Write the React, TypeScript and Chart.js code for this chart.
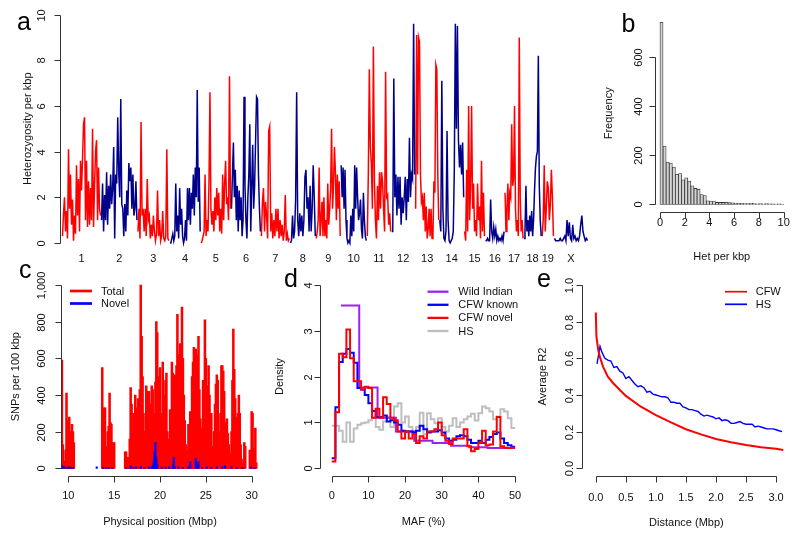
import React, { useEffect, useRef } from 'react';
import { Chart, registerables } from 'chart.js';
Chart.register(...registerables);

const FONT = "'Liberation Sans', Arial, Helvetica, sans-serif";
Chart.defaults.font.family = FONT;
const PAGE_W = 800;
const PAGE_H = 537;
const RED = '#FF0000';
const NAVY = '#00008B';
const BLUE = '#0000FF';
const PURPLE = '#A020F0';
const GREY = '#BEBEBE';
const AXIS = '#333333';
const TEXT = '#111111';
const FS = 11;

// ---------- Panel a: heterozygosity per kbp along the genome ----------
const chromNames = ['1','2','3','4','5','6','7','8','9','10','11','12','13','14','15','16','17','18','19','X'];
const chromLengthsMb = [195.5,182.1,160.0,156.5,151.8,149.7,145.4,129.4,124.6,130.7,122.1,120.1,120.4,124.9,104.0,98.2,95.0,90.7,61.4,171.0];
const hetChr1 = [0.3,1.3,2.0,0.5,1.4,0.2,4.1,1.5,3.0,0.8,1.9,0.1,1.2,0.4,3.4,1.2,2.8,0.5,3.6,2.3,3.7,5.2,5.5,1.0,3.6,0.7,2.7,0.8,2.4,1.0,5.0,0.7,2.5,4.0,4.5,1.0,3.3,1.5,1.2];
const hetChr2 = [1.0,2.6,0.5,2.1,1.0,3.1,0.8,2.5,1.5,3.0,1.7,2.4,4.2,0.2,3.0,2.6,5.5,3.1,2.0,6.3,1.7,1.5,0.3,1.7,0.5,2.3,1.2,3.5,2.7,3.3,1.5,3.0,1.2,1.5,2.7,1.0];
const hetChr3 = [0.5,1.5,0.2,5.3,1.2,1.5,0.5,1.5,0.3,2.8,1.0,1.2,0.2,0.8,0.3,1.2,0.5,0.1,0.4,2.3,0.3,1.0,0.1,0.3,1.4,0.2,0.1,0.3,4.1,0.2,0.1];
const hetChr4 = [0.0,0.0,0.2,0.4,0.1,0.3,2.6,0.5,1.2,0.2,2.4,0.8,1.5,0.3,0.0,0.2,1.0,0.1,2.4,1.0,2.4,0.8,2.2,1.5,3.0,1.2,3.3,2.0,6.7,1.8,3.3,0.5];
const hetChr5 = [0.0,0.1,0.3,0.5,3.0,0.3,1.0,0.5,2.6,6.6,1.5,0.8,1.4,0.5,2.0,1.0,2.4,1.2,2.2,0.5,1.5,0.4,3.0,1.0,2.6,3.6,1.7,2.0,1.0,7.3,1.5];
const hetChr6 = [1.5,3.0,4.4,2.0,3.2,1.0,2.5,0.5,2.3,1.0,2.0,0.3,1.0,6.4,2.5,1.0,0.2,2.0,3.0,5.2,0.5,2.5,4.3,1.5,2.5,4.5,6.4,6.3,3.0,1.5,0.5];
const hetChr7 = [0.3,1.8,2.4,0.5,1.8,1.2,0.2,4.9,5.1,0.5,1.3,0.2,1.0,0.3,1.5,0.5,1.5,0.2,1.0,0.3,0.8,0.1,0.5,2.1,0.1,0.4,0.1,0.2];
const hetChr8 = [0.0,0.1,1.2,0.2,0.5,1.9,6.6,1.0,0.3,1.3,0.5,1.2,0.3,1.0,2.9,3.2,1.5,2.0,0.5,2.5,0.5,1.5,3.4,2.0,0.3];
const hetChr9 = [0.2,0.5,1.0,3.3,0.3,1.0,1.8,0.3,2.0,0.3,1.0,0.2,2.6,0.8,1.5,2.4,5.0,1.5,2.5,4.2,3.1,1.0,3.0,1.5,2.7,0.3];
const hetChr10 = [3.4,2.0,3.3,1.5,3.2,1.0,0.2,0.0,0.1,0.0,1.2,0.3,1.5,0.5,3.4,1.5,3.3,2.0,1.0,1.3,1.9,0.6,0.2,2.2,1.0,0.3,0.1];
const hetChr11 = [0.3,3.0,7.6,4.2,3.5,1.5,8.6,2.7,1.0,0.2,2.5,1.0,3.1,1.5,3.1,2.7,1.5,0.5,7.5,2.0,2.1,0.8,1.3,0.5];
const hetChr12 = [0.5,0.5,7.2,2.0,3.0,1.2,2.9,1.5,2.9,0.8,2.0,1.3,2.0,2.9,1.0,2.8,1.8,4.6,2.0,3.0,2.8,9.6,3.0];
const hetChr13 = [1.5,9.1,3.0,9.0,8.8,3.0,1.8,2.0,1.0,2.2,0.5,1.6,0.2,0.6,1.5,0.3,1.5,0.2,0.4,2.7,2.2,7.8,7.6,3.0,1.0];
const hetChr14 = [1.0,0.5,7.1,1.5,0.2,0.1,0.5,4.9,1.0,0.1,0.0,0.1,0.2,0.5,3.2,9.6,5.0,9.5,4.5,3.3,4.3,3.0,4.4,2.0];
const hetChr15 = [0.5,0.1,3.2,0.5,6.0,1.0,2.5,6.0,1.5,2.6,0.5,1.0,0.3,2.6,1.0,1.6,0.2,3.6,0.5,2.2,0.3];
const hetChr16 = [0.1,0.1,0.2,0.1,0.1,1.9,0.5,0.2,0.7,0.3,0.6,0.1,0.3,0.1,0.2,0.1,0.3,0.1,0.5];
const hetChr17 = [2.2,0.5,1.5,2.6,1.0,2.2,2.0,5.2,2.5,2.8,6.0,1.5,0.5,1.0,0.3,9.0,2.0,0.5,1.0,0.2];
const hetChr18 = [0.2,0.5,2.5,0.5,1.0,0.3,1.2,0.5,1.4,0.3,1.0,2.3,3.3,3.8,4.0,8.2,2.5,1.0,0.3];
const hetChr19 = [0.3,1.0,3.4,0.5,1.5,2.7,2.4,1.0,1.7,3.2,2.0,0.3];
const hetChrX = [0.2,0.1,0.1,0.1,0.1,0.2,0.1,0.1,0.2,0.3,0.1,1.0,0.3,0.9,0.2,0.1,0.8,0.2,0.3,0.1,0.2,0.1,0.3,0.8,1.2,0.5,0.3,0.1,0.2,0.1];
const hetByChrom = [hetChr1,hetChr2,hetChr3,hetChr4,hetChr5,hetChr6,hetChr7,hetChr8,hetChr9,hetChr10,hetChr11,hetChr12,hetChr13,hetChr14,hetChr15,hetChr16,hetChr17,hetChr18,hetChr19,hetChrX];
const aYTicks = [0, 2, 4, 6, 8, 10];
const aYLabels = ['0', '2', '4', '6', '8', '10'];

// ---------- Panel b: histogram of het per kbp ----------
const histBinStart = 0;
const histBinWidth = 0.25;
const histCounts = [740,237,172,168,152,122,125,100,108,95,76,65,62,40,36,15,14,12,8,8,8,9,7,6,5,4,4,3,3,4,3,2,3,2,3,2,2,1,2,1];
const bXTicks = [0, 2, 4, 6, 8, 10];
const bXLabels = ['0', '2', '4', '6', '8', '10'];
const bYTicks = [0, 200, 400, 600];
const bYLabels = ['0', '200', '400', '600'];

// ---------- Panel c: SNPs per 100 kbp ----------
const snpBinMb = 0.1;
const totalSeg1Start = 9.3;
const totalSeg1 = [590,130,20,40,100,410,110,260,280,160,200,240,200,140];
const totalSeg2Start = 13.7;
const totalSeg2 = [550,300,330,330,110,120,200,230,410,250,240,110,140,140];
const totalSeg3Start = 16.2;
const totalSeg3 = [90,90,60,60,20,160,440,350,200,300,130,400,260,330,380,250,430,1000,720,500,
  300,150,200,450,260,420,420,200,350,450,430,200,300,470,800,740,500,350,550,300,
  230,580,400,200,480,520,200,100,160,320,300,580,520,470,510,500,560,840,500,620,
  680,460,880,600,400,260,130,100,70,240,150,310,200,500,580,660,600,650,620,560,
  720,430,270,140,220,480,420,810,600,450,300,560,400,250,300,120,80,200,350,460,
  510,480,200,100,300,560,560,530,420,250,240,270,190,130,60,80,200,480,760,540,
  380,280,150,300,400,300,130,50,10,30,140,120];
const totalSeg4Start = 29.8;
const totalSeg4 = [100,100,310,300,110,100,220,30];
const novelPos = [9.3,9.4,9.6,9.9,10.1,10.3,10.5,13.1,13.8,14.1,14.4,14.8,16.3,16.8,17.1,17.4,17.9,18.3,18.8,19.1,19.2,19.3,19.4,19.5,19.6,19.7,20.2,20.6,21.0,21.4,21.5,21.6,22.0,22.5,23.1,23.3,23.9,24.0,24.2,24.6,25.1,25.6,26.2,26.8,27.1,27.8,28.4,29.0,29.9,30.3];
const novelVal = [15,10,8,6,8,6,5,8,6,5,6,5,6,15,6,8,10,6,8,10,12,40,90,140,60,20,8,6,10,15,60,10,8,6,8,35,55,20,35,6,8,6,8,10,15,8,6,5,8,6];
const cXTicks = [10, 15, 20, 25, 30];
const cXLabels = ['10', '15', '20', '25', '30'];
const cYTicks = [0, 200, 400, 600, 800, 1000];
const cYLabels = ['0', '200', '400', '600', '800', '1,000'];

// ---------- Panel d: MAF densities ----------
const wildMaf = [2.5,7.5,12.5,17.5,22.5,27.5,32.5,37.5,42.5,47.5,50];
const wildDensity = [3.55,1.76,1.1,0.8,0.6,0.55,0.49,0.46,0.44,0.44,0.44];
const mafBinStart = 0;
const mafBinWidth = 1;
const cfwKnownDensity = [0.22,1.33,2.32,2.5,2.6,2.52,2.3,1.75,1.72,1.6,1.42,1.25,1.12,1.12,1.15,1.02,1.05,1.0,0.95,0.82,0.8,0.8,0.78,0.82,0.93,0.85,0.78,0.8,0.8,0.83,0.78,0.65,0.6,0.62,0.7,0.72,0.7,0.62,0.55,0.55,0.6,0.55,0.62,0.68,0.75,0.78,0.65,0.55,0.5,0.47];
const cfwNovelDensity = [0.15,1.22,2.5,2.42,3.03,2.4,1.9,1.9,1.72,1.78,1.75,1.1,1.3,1.1,1.55,1.4,1.1,1.05,0.8,0.65,0.8,0.65,0.75,0.55,0.7,0.65,0.8,0.8,0.85,1.0,0.72,0.6,0.53,0.65,0.65,0.65,0.85,0.48,0.37,0.42,0.55,0.82,0.5,0.52,0.8,1.12,0.48,0.45,0.44,0.45];
const hsDensity = [0.93,0.93,0.82,0.58,1.0,0.58,0.87,0.95,0.98,1.0,1.05,1.1,0.9,0.84,1.02,1.13,0.9,1.35,1.42,1.0,1.13,0.9,0.79,0.9,1.21,0.74,1.2,1.07,0.98,1.09,0.9,0.8,0.93,1.09,0.9,1.0,1.07,1.13,1.19,1.04,1.2,1.35,1.31,1.24,1.07,1.13,1.29,1.24,1.09,0.88];
const dXTicks = [0, 10, 20, 30, 40, 50];
const dXLabels = ['0', '10', '20', '30', '40', '50'];
const dYTicks = [0, 1, 2, 3, 4];
const dYLabels = ['0', '1', '2', '3', '4'];

// ---------- Panel e: LD decay ----------
const cfwDist = [0,0.01,0.04,0.07,0.12,0.2,0.29,0.4,0.5,0.75,1.0,1.25,1.5,1.75,2.0,2.25,2.5,2.75,3.0,3.12];
const cfwR2 = [0.85,0.72,0.645,0.605,0.555,0.5,0.464,0.427,0.395,0.336,0.29,0.25,0.213,0.185,0.16,0.142,0.127,0.115,0.107,0.1];
const hsDist = [0.02,0.07,0.1,0.15,0.2,0.25,0.3,0.35,0.4,0.45,0.5,0.55,0.6,0.65,0.7,0.75,0.8,0.85,0.9,0.95,1.0,1.05,1.1,1.15,1.2,1.25,1.3,1.35,1.4,1.45,1.5,1.55,1.6,1.65,1.7,1.75,1.8,1.85,1.9,1.95,2.0,2.05,2.1,2.15,2.2,2.25,2.3,2.35,2.4,2.45,2.5,2.55,2.6,2.65,2.7,2.75,2.8,2.85,2.9,2.95,3.0,3.05,3.1];
const hsR2 = [0.57,0.665,0.635,0.6,0.59,0.585,0.55,0.555,0.53,0.52,0.49,0.5,0.48,0.46,0.445,0.45,0.44,0.415,0.42,0.405,0.4,0.395,0.39,0.39,0.385,0.36,0.36,0.355,0.355,0.335,0.33,0.32,0.32,0.315,0.31,0.295,0.285,0.29,0.285,0.28,0.27,0.275,0.26,0.265,0.26,0.245,0.245,0.25,0.255,0.245,0.24,0.24,0.24,0.225,0.23,0.225,0.22,0.215,0.215,0.215,0.21,0.205,0.2];
const eXTicks = [0, 0.5, 1, 1.5, 2, 2.5, 3];
const eXLabels = ['0.0', '0.5', '1.0', '1.5', '2.0', '2.5', '3.0'];
const eYTicks = [0, 0.2, 0.4, 0.6, 0.8, 1.0];
const eYLabels = ['0.0', '0.2', '0.4', '0.6', '0.8', '1.0'];

// ---------- helpers ----------
type Box = { left: number; top: number; right: number; bottom: number };
type Spec = {
  box: Box; x: [number, number]; y: [number, number];
  xTicks: number[]; xLabels: string[]; xLabelCenter: number;
  xTitle?: string; xTitleCenter?: number;
  yTicks: number[]; yLabels: string[]; yLabelDist: number;
  yTitle: string; yTitleCenter: number;
  xLine: boolean; letter: string; letterX: number; letterY: number;
};

function rAxesPlugin(s: Spec) {
  return {
    id: 'rAxes',
    afterDraw(chart: any) {
      const { ctx, chartArea: ca } = chart;
      const xs = chart.scales.x;
      const ys = chart.scales.y;
      ctx.save();
      ctx.strokeStyle = AXIS;
      ctx.lineWidth = 1;
      ctx.beginPath();
      if (s.xLine) {
        const px = xs.ticks.map((t: any) => Math.round(xs.getPixelForValue(t.value)) + 0.5);
        const y = Math.round(ca.bottom) + 0.5;
        ctx.moveTo(px[0], y);
        ctx.lineTo(px[px.length - 1], y);
        px.forEach((p: number) => { ctx.moveTo(p, y); ctx.lineTo(p, y + 6); });
      }
      const py = ys.ticks.map((t: any) => Math.round(ys.getPixelForValue(t.value)) + 0.5);
      const x = Math.round(ca.left) + 0.5;
      ctx.moveTo(x, py[0]);
      ctx.lineTo(x, py[py.length - 1]);
      py.forEach((p: number) => { ctx.moveTo(x, p); ctx.lineTo(x - 6, p); });
      ctx.stroke();
      ctx.fillStyle = TEXT;
      ctx.font = `${FS}px ${FONT}`;
      ctx.textAlign = 'center';
      ctx.textBaseline = 'middle';
      py.forEach((p: number, i: number) => {
        ctx.save();
        ctx.translate(ca.left - s.yLabelDist, p);
        ctx.rotate(-Math.PI / 2);
        ctx.fillText(s.yLabels[i], 0, 0);
        ctx.restore();
      });
      ctx.font = `25px ${FONT}`;
      ctx.textAlign = 'left';
      ctx.textBaseline = 'alphabetic';
      ctx.fillStyle = '#000';
      ctx.fillText(s.letter, s.letterX, s.letterY);
      ctx.restore();
    },
  };
}

function legendPlugin(cfg: { indices: number[]; x1: number; x2: number; tx: number; y0: number; dy: number; lineWidth: number }) {
  return {
    id: 'rLegend',
    afterDraw(chart: any) {
      const ctx = chart.ctx;
      ctx.save();
      ctx.font = `${FS}px ${FONT}`;
      ctx.textAlign = 'left';
      ctx.textBaseline = 'middle';
      cfg.indices.forEach((di, k) => {
        const ds = chart.data.datasets[di];
        const color = chart.config.type === 'bar' ? ds.backgroundColor : ds.borderColor;
        const y = cfg.y0 + k * cfg.dy;
        ctx.strokeStyle = color;
        ctx.lineWidth = cfg.lineWidth;
        ctx.beginPath();
        ctx.moveTo(cfg.x1, y);
        ctx.lineTo(cfg.x2, y);
        ctx.stroke();
        ctx.fillStyle = TEXT;
        ctx.fillText(ds.label, cfg.tx, y + 0.5);
      });
      ctx.restore();
    },
  };
}

function makeOptions(s: Spec) {
  const font = { family: FONT, size: FS };
  return {
    responsive: false,
    animation: false,
    events: [],
    layout: { padding: { left: 0, top: s.box.top, right: PAGE_W - s.box.right, bottom: 0 } },
    plugins: { legend: { display: false }, tooltip: { enabled: false }, title: { display: false } },
    scales: {
      x: {
        type: 'linear',
        min: s.x[0],
        max: s.x[1],
        offset: false,
        afterBuildTicks: (sc: any) => { sc.ticks = s.xTicks.map((v) => ({ value: v })); },
        afterFit: (sc: any) => { sc.height = PAGE_H - s.box.bottom; },
        ticks: {
          autoSkip: false, maxRotation: 0, minRotation: 0,
          padding: s.xLabelCenter - s.box.bottom - 0.6 * FS,
          font, color: TEXT,
          callback: (_v: any, i: number) => s.xLabels[i],
        },
        grid: { display: false, drawTicks: false, offset: false },
        border: { display: false },
        title: s.xTitle
          ? { display: true, text: s.xTitle, color: TEXT, font, padding: { top: 0, bottom: PAGE_H - (s.xTitleCenter as number) - 0.6 * FS } }
          : { display: false },
      },
      y: {
        type: 'linear',
        min: s.y[0],
        max: s.y[1],
        afterBuildTicks: (sc: any) => { sc.ticks = s.yTicks.map((v) => ({ value: v })); },
        afterFit: (sc: any) => { sc.width = s.box.left; },
        ticks: { display: false },
        grid: { display: false, drawTicks: false },
        border: { display: false },
        title: { display: true, text: s.yTitle, color: TEXT, font, padding: { top: s.yTitleCenter - 0.6 * FS, bottom: 0 } },
      },
    },
  };
}

// ---------- panel configs ----------
function configA() {
  const starts: number[] = [];
  let acc = 0;
  chromLengthsMb.forEach((l) => { starts.push(acc); acc += l; });
  const mids = chromLengthsMb.map((l, k) => starts[k] + l / 2);
  const datasets = hetByChrom.map((vals, k) => ({
    label: 'chr' + chromNames[k],
    data: vals.map((v, i) => ({ x: starts[k] + ((i + 0.5) * chromLengthsMb[k]) / vals.length, y: v })),
    borderColor: k % 2 === 0 ? RED : NAVY,
    borderWidth: 1.5,
    pointRadius: 0,
    tension: 0,
    fill: false,
  }));
  const spec: Spec = {
    box: { left: 60, top: 5.4, right: 590, bottom: 252.1 },
    x: [-10, 2643], y: [-0.4, 10.4],
    xTicks: mids, xLabels: chromNames, xLabelCenter: 258.7,
    yTicks: aYTicks, yLabels: aYLabels, yLabelDist: 18.3,
    yTitle: 'Heterozygosity per kbp', yTitleCenter: 28,
    xLine: false, letter: 'a', letterX: 17, letterY: 30,
  };
  return { type: 'line', data: { datasets }, options: makeOptions(spec), plugins: [rAxesPlugin(spec)] };
}

function configB() {
  const data = histCounts.map((c, i) => ({ x: histBinStart + (i + 0.5) * histBinWidth, y: c }));
  const spec: Spec = {
    box: { left: 655, top: 15, right: 788.6, bottom: 211.7 },
    x: [-0.4, 10.4], y: [-29.6, 769.6],
    xTicks: bXTicks, xLabels: bXLabels, xLabelCenter: 222.5,
    xTitle: 'Het per kbp', xTitleCenter: 257.3,
    yTicks: bYTicks, yLabels: bYLabels, yLabelDist: 16.5,
    yTitle: 'Frequency', yTitleCenter: 608.7,
    xLine: true, letter: 'b', letterX: 621.5, letterY: 31.7,
  };
  return {
    type: 'bar',
    data: {
      datasets: [{
        label: 'Frequency', data,
        backgroundColor: '#D3D3D3', borderColor: '#333333', borderWidth: 0.8, borderSkipped: false,
        barPercentage: 1, categoryPercentage: 1,
      }],
    },
    options: makeOptions(spec),
    plugins: [rAxesPlugin(spec)],
  };
}

function segPoints(start: number, vals: number[]) {
  return vals.map((v, i) => ({ x: start + i * snpBinMb, y: v }));
}

function configC() {
  const total = [
    ...segPoints(totalSeg1Start, totalSeg1),
    ...segPoints(totalSeg2Start, totalSeg2),
    ...segPoints(totalSeg3Start, totalSeg3),
    ...segPoints(totalSeg4Start, totalSeg4),
  ];
  const novel = novelPos.map((p, i) => ({ x: p, y: novelVal[i] }));
  const spec: Spec = {
    box: { left: 61, top: 277.7, right: 259, bottom: 475.7 },
    x: [9.2, 30.8], y: [-40, 1040],
    xTicks: cXTicks, xLabels: cXLabels, xLabelCenter: 496,
    xTitle: 'Physical position (Mbp)', xTitleCenter: 521.7,
    yTicks: cYTicks, yLabels: cYLabels, yLabelDist: 19.3,
    yTitle: 'SNPs per 100 kbp', yTitleCenter: 16,
    xLine: true, letter: 'c', letterX: 19, letterY: 278,
  };
  return {
    type: 'bar',
    data: {
      datasets: [
        { label: 'Total', data: total, backgroundColor: RED, borderWidth: 0, barThickness: 1.9, grouped: false, order: 1 },
        { label: 'Novel', data: novel, backgroundColor: BLUE, borderWidth: 0, barThickness: 1.5, grouped: false, order: 0 },
      ],
    },
    options: makeOptions(spec),
    plugins: [rAxesPlugin(spec), legendPlugin({ indices: [0, 1], x1: 70, x2: 92, tx: 101, y0: 291, dy: 12.5, lineWidth: 2.7 })],
  };
}

function histSteps(vals: number[]) {
  const pts = vals.map((v, i) => ({ x: mafBinStart + i * mafBinWidth, y: v }));
  pts.push({ x: mafBinStart + vals.length * mafBinWidth, y: vals[vals.length - 1] });
  return pts;
}

function configD() {
  const spec: Spec = {
    box: { left: 320, top: 277.6, right: 526.8, bottom: 475.6 },
    x: [-3.2, 53.2], y: [-0.16, 4.16],
    xTicks: dXTicks, xLabels: dXLabels, xLabelCenter: 496,
    xTitle: 'MAF (%)', xTitleCenter: 521.7,
    yTicks: dYTicks, yLabels: dYLabels, yLabelDist: 11.5,
    yTitle: 'Density', yTitleCenter: 279.5,
    xLine: true, letter: 'd', letterX: 284, letterY: 286.7,
  };
  const common = { pointRadius: 0, borderWidth: 2, stepped: 'before', fill: false, tension: 0 };
  return {
    type: 'line',
    data: {
      datasets: [
        { ...common, label: 'Wild Indian', data: wildMaf.map((m, i) => ({ x: m, y: wildDensity[i] })), borderColor: PURPLE, order: 2 },
        { ...common, label: 'CFW known', data: histSteps(cfwKnownDensity), borderColor: BLUE, order: 1 },
        { ...common, label: 'CFW novel', data: histSteps(cfwNovelDensity), borderColor: RED, order: 0 },
        { ...common, label: 'HS', data: histSteps(hsDensity), borderColor: GREY, order: 3 },
      ],
    },
    options: makeOptions(spec),
    plugins: [rAxesPlugin(spec), legendPlugin({ indices: [0, 1, 2, 3], x1: 427.5, x2: 448.5, tx: 458.3, y0: 291.7, dy: 13.1, lineWidth: 2.3 })],
  };
}

function configE() {
  const spec: Spec = {
    box: { left: 581.7, top: 277.7, right: 793.6, bottom: 475.6 },
    x: [-0.235, 3.25], y: [-0.04, 1.04],
    xTicks: eXTicks, xLabels: eXLabels, xLabelCenter: 498,
    xTitle: 'Distance (Mbp)', xTitleCenter: 522.7,
    yTicks: eYTicks, yLabels: eYLabels, yLabelDist: 11.7,
    yTitle: 'Average R2', yTitleCenter: 542.7,
    xLine: true, letter: 'e', letterX: 537, letterY: 286.7,
  };
  return {
    type: 'line',
    data: {
      datasets: [
        { label: 'CFW', data: cfwDist.map((d, i) => ({ x: d, y: cfwR2[i] })), borderColor: RED, borderWidth: 2, pointRadius: 0, tension: 0, fill: false },
        { label: 'HS', data: hsDist.map((d, i) => ({ x: d, y: hsR2[i] })), borderColor: BLUE, borderWidth: 1.4, pointRadius: 0, tension: 0, fill: false },
      ],
    },
    options: makeOptions(spec),
    plugins: [rAxesPlugin(spec), legendPlugin({ indices: [0, 1], x1: 725, x2: 747, tx: 755.7, y0: 291.7, dy: 12.6, lineWidth: 1.7 })],
  };
}

function Panel({ build }: { build: () => any }) {
  const ref = useRef<HTMLCanvasElement>(null);
  useEffect(() => {
    const chart = new Chart(ref.current as HTMLCanvasElement, build());
    return () => chart.destroy();
  }, []);
  return (
    <canvas
      ref={ref}
      width={PAGE_W}
      height={PAGE_H}
      style={{ position: 'absolute', left: 0, top: 0, width: PAGE_W, height: PAGE_H }}
    />
  );
}

export default function App() {
  return (
    <div style={{ position: 'absolute', left: 0, top: 0, width: PAGE_W, height: PAGE_H, background: '#ffffff', overflow: 'hidden' }}>
      <Panel build={configA} />
      <Panel build={configB} />
      <Panel build={configC} />
      <Panel build={configD} />
      <Panel build={configE} />
    </div>
  );
}
